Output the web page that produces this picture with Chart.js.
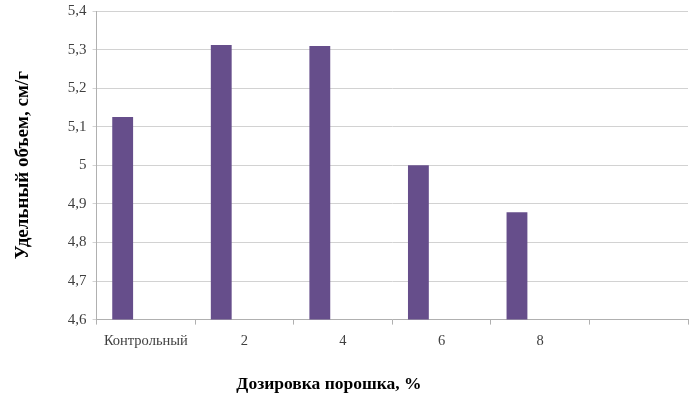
<!DOCTYPE html>
<html>
<head>
<meta charset="utf-8">
<script src="https://cdn.jsdelivr.net/npm/chart.js@4"></script>
<style>
    html, body { margin: 0; padding: 0; background: #fff; }
    #wrap { width: 699px; height: 413px; position: relative; }
</style>
</head>
<body>
<div id="wrap"><canvas id="volumeChart" width="699" height="413"></canvas></div>
<script>
    // категории и значения
    const categories = ['Контрольный', '2', '4', '6', '8', ''];
    const volumeValues = [5.125, 5.312, 5.309, 5.0, 4.878, null];
    const emptySeries = [null, null, null, null, null, null];

    const yTitle = 'Удельный объем, см/г';
    const xTitle = 'Дозировка порошка, %';

    const serif = 'Liberation Serif, Times New Roman, serif';

    // подпись оси X рисуем сами, чтобы сдвинуть её влево как в оригинале
    const xTitlePlugin = {
        id: 'xTitlePlugin',
        afterDraw(chart) {
            const ctx = chart.ctx;
            const area = chart.chartArea;
            ctx.save();
            ctx.font = 'bold 17.5px ' + serif;
            ctx.fillStyle = '#000';
            ctx.textAlign = 'center';
            ctx.textBaseline = 'middle';
            ctx.fillText(xTitle, area.left + (area.right - area.left) * 0.393, 384);
            ctx.restore();
        }
    };

    const volumeConfig = {
        type: 'bar',
        data: {
            labels: categories,
            datasets: [
                {
                    label: 'Удельный объем',
                    data: volumeValues,
                    backgroundColor: '#664E8B',
                    borderWidth: 0,
                    barPercentage: 0.45,
                    categoryPercentage: 0.94
                },
                {
                    label: '',
                    data: emptySeries,
                    backgroundColor: '#664E8B',
                    barPercentage: 0.45,
                    categoryPercentage: 0.94
                }
            ]
        },
        options: {
            responsive: false,
            animation: false,
            layout: {
                padding: { left: 12, right: 11, top: 11, bottom: 55 }
            },
            plugins: {
                legend: { display: false },
                tooltip: { enabled: false }
            },
            scales: {
                x: {
                    ticks: {
                        color: '#404040',
                        font: { family: serif, size: 14.5 },
                        padding: 8,
                        maxRotation: 0
                    },
                    grid: {
                        drawOnChartArea: false,
                        tickLength: 5,
                        color: '#b0b0b0'
                    },
                    border: { color: '#b0b0b0' }
                },
                y: {
                    min: 4.6,
                    max: 5.4,
                    afterFit: function (scale) {
                        // верхняя подпись не должна сдвигать область графика
                        scale.paddingTop = 0;
                    },
                    ticks: {
                        stepSize: 0.1,
                        color: '#404040',
                        font: { family: serif, size: 15 },
                        padding: 6,
                        callback: function (v) {
                            return String(Number(v.toFixed(1))).replace('.', ',');
                        }
                    },
                    grid: {
                        color: '#d2d2d2',
                        tickLength: 4
                    },
                    border: { color: '#b0b0b0' },
                    title: {
                        display: true,
                        text: yTitle,
                        color: '#000',
                        font: { family: serif, size: 19, weight: 'bold' },
                        padding: { top: 0, bottom: 27 }
                    }
                }
            }
        },
        plugins: [xTitlePlugin]
    };

    var volumeChart = new Chart(
        document.getElementById('volumeChart'),
        volumeConfig
    );
</script>
</body>
</html>
